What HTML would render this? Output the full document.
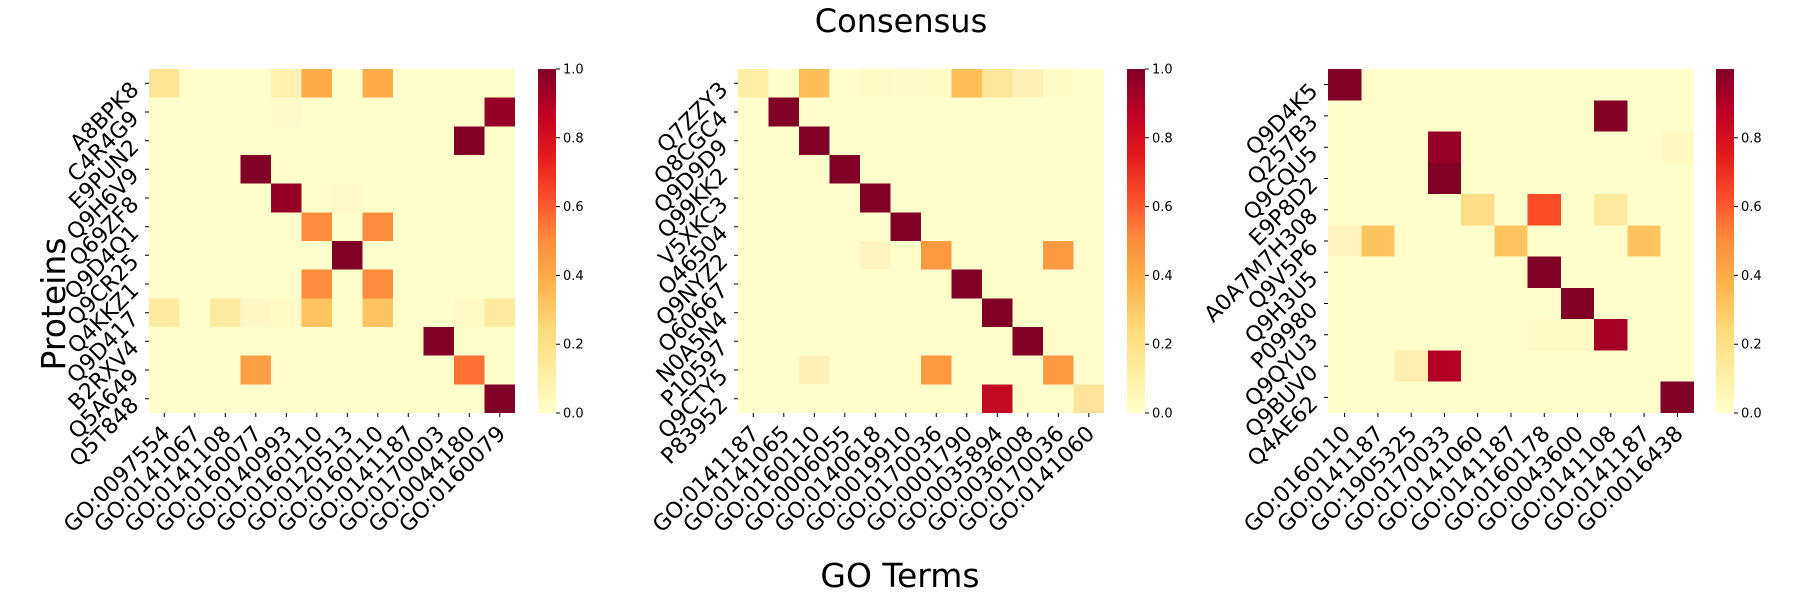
<!DOCTYPE html>
<html><head><meta charset="utf-8"><style>html,body{margin:0;padding:0;background:#fff}svg{display:block}text{font-family:"DejaVu Sans","Liberation Sans",sans-serif;fill:#000}</style></head>
<body>
<svg width="1800" height="600" viewBox="0 0 1800 600" xmlns="http://www.w3.org/2000/svg">
<defs>
<linearGradient id="yl" x1="0" y1="1" x2="0" y2="0">
<stop offset="0" stop-color="#ffffcc"/><stop offset="0.125" stop-color="#ffeda0"/><stop offset="0.25" stop-color="#fed976"/><stop offset="0.375" stop-color="#feb24c"/><stop offset="0.5" stop-color="#fd8d3c"/><stop offset="0.625" stop-color="#fc4e2a"/><stop offset="0.75" stop-color="#e31a1c"/><stop offset="0.875" stop-color="#bd0026"/><stop offset="1" stop-color="#800026"/>
</linearGradient>
</defs>
<text x="901" y="32" font-size="32" text-anchor="middle">Consensus</text>
<text x="900" y="587" font-size="33" text-anchor="middle">GO Terms</text>
<text transform="translate(65,304) rotate(-90)" font-size="33" text-anchor="middle">Proteins</text>

<!-- Panel 1 -->
<g>
<rect x="149" y="69" width="366" height="344" fill="#ffffcc"/>
<g shape-rendering="crispEdges">
<rect x="149" y="69" width="30.5" height="28.67" fill="#fee595"/>
<rect x="271" y="69" width="30.5" height="28.67" fill="#fff2b0"/>
<rect x="301.5" y="69" width="30.5" height="28.67" fill="#feab4a"/>
<rect x="362.5" y="69" width="30.5" height="28.67" fill="#feab4a"/>
<rect x="271" y="97.67" width="30.5" height="28.67" fill="#fffaca"/>
<rect x="484.5" y="97.67" width="30.5" height="28.67" fill="#970026"/>
<rect x="454" y="126.33" width="30.5" height="28.67" fill="#800026"/>
<rect x="240.5" y="155" width="30.5" height="28.67" fill="#800026"/>
<rect x="271" y="183.67" width="30.5" height="28.67" fill="#970026"/>
<rect x="332" y="183.67" width="30.5" height="28.67" fill="#fffac8"/>
<rect x="301.5" y="212.33" width="30.5" height="28.67" fill="#fd8c3c"/>
<rect x="362.5" y="212.33" width="30.5" height="28.67" fill="#fd8c3c"/>
<rect x="332" y="241" width="30.5" height="28.67" fill="#800026"/>
<rect x="301.5" y="269.67" width="30.5" height="28.67" fill="#fd8c3c"/>
<rect x="362.5" y="269.67" width="30.5" height="28.67" fill="#fd8c3c"/>
<rect x="149" y="298.33" width="30.5" height="28.67" fill="#feeba0"/>
<rect x="210" y="298.33" width="30.5" height="28.67" fill="#feeba0"/>
<rect x="240.5" y="298.33" width="30.5" height="28.67" fill="#fff8c4"/>
<rect x="271" y="298.33" width="30.5" height="28.67" fill="#fffac6"/>
<rect x="301.5" y="298.33" width="30.5" height="28.67" fill="#fec45f"/>
<rect x="362.5" y="298.33" width="30.5" height="28.67" fill="#fec45f"/>
<rect x="454" y="298.33" width="30.5" height="28.67" fill="#fffac6"/>
<rect x="484.5" y="298.33" width="30.5" height="28.67" fill="#feeba0"/>
<rect x="423.5" y="327" width="30.5" height="28.67" fill="#800026"/>
<rect x="240.5" y="355.67" width="30.5" height="28.67" fill="#fd9f44"/>
<rect x="454" y="355.67" width="30.5" height="28.67" fill="#fd7234"/>
<rect x="484.5" y="384.33" width="30.5" height="28.67" fill="#800026"/>
</g>
<g stroke="#000" stroke-width="1">
<path d="M145 83.3H149M145 112H149M145 140.7H149M145 169.3H149M145 198H149M145 226.7H149M145 255.3H149M145 284H149M145 312.7H149M145 341.3H149M145 370H149M145 398.7H149"/>
<path d="M164.3 413V417M194.8 413V417M225.3 413V417M255.8 413V417M286.3 413V417M316.8 413V417M347.3 413V417M377.8 413V417M408.3 413V417M438.8 413V417M469.3 413V417M499.8 413V417"/>
</g>
<g font-size="22" text-anchor="end">
<text transform="translate(140,91) rotate(-45)">A8BPK8</text>
<text transform="translate(140,119.7) rotate(-45)">C4R4G9</text>
<text transform="translate(140,148.4) rotate(-45)">E9PUN2</text>
<text transform="translate(140,177) rotate(-45)">Q9H6V9</text>
<text transform="translate(140,205.7) rotate(-45)">Q69ZF8</text>
<text transform="translate(140,234.4) rotate(-45)">Q9D4Q1</text>
<text transform="translate(140,263) rotate(-45)">Q9CR25</text>
<text transform="translate(140,291.7) rotate(-45)">Q4KKZ1</text>
<text transform="translate(140,320.4) rotate(-45)">Q9D417</text>
<text transform="translate(140,349) rotate(-45)">B2RXV4</text>
<text transform="translate(140,377.7) rotate(-45)">Q5A649</text>
<text transform="translate(140,406.4) rotate(-45)">Q5T848</text>
<text transform="translate(171.3,435) rotate(-45)">GO:0097554</text>
<text transform="translate(201.8,435) rotate(-45)">GO:0141067</text>
<text transform="translate(232.3,435) rotate(-45)">GO:0141108</text>
<text transform="translate(262.8,435) rotate(-45)">GO:0160077</text>
<text transform="translate(293.3,435) rotate(-45)">GO:0140993</text>
<text transform="translate(323.8,435) rotate(-45)">GO:0160110</text>
<text transform="translate(354.3,435) rotate(-45)">GO:0120513</text>
<text transform="translate(384.8,435) rotate(-45)">GO:0160110</text>
<text transform="translate(415.3,435) rotate(-45)">GO:0141187</text>
<text transform="translate(445.8,435) rotate(-45)">GO:0170003</text>
<text transform="translate(476.3,435) rotate(-45)">GO:0044180</text>
<text transform="translate(506.8,435) rotate(-45)">GO:0160079</text>
</g>
<rect x="538" y="69" width="18" height="344" fill="url(#yl)"/>
<path d="M556 413H560M556 344.2H560M556 275.4H560M556 206.6H560M556 137.8H560M556 69H560" stroke="#000"/>
<g font-size="13"><text x="563" y="417.5">0.0</text><text x="563" y="348.7">0.2</text><text x="563" y="279.9">0.4</text><text x="563" y="211.1">0.6</text><text x="563" y="142.3">0.8</text><text x="563" y="73.5">1.0</text></g>
</g>

<!-- Panel 2 -->
<g>
<rect x="738" y="69" width="366" height="344" fill="#ffffcc"/>
<g shape-rendering="crispEdges">
<rect x="738" y="69" width="30.5" height="28.67" fill="#ffefa5"/>
<rect x="799" y="69" width="30.5" height="28.67" fill="#febf5a"/>
<rect x="860" y="69" width="30.5" height="28.67" fill="#fffac6"/>
<rect x="890.5" y="69" width="30.5" height="28.67" fill="#fffcca"/>
<rect x="921" y="69" width="30.5" height="28.67" fill="#fffac6"/>
<rect x="951.5" y="69" width="30.5" height="28.67" fill="#febf5a"/>
<rect x="982" y="69" width="30.5" height="28.67" fill="#fee79b"/>
<rect x="1012.5" y="69" width="30.5" height="28.67" fill="#fff0b5"/>
<rect x="1043" y="69" width="30.5" height="28.67" fill="#fffac6"/>
<rect x="768.5" y="97.67" width="30.5" height="28.67" fill="#800026"/>
<rect x="799" y="126.33" width="30.5" height="28.67" fill="#800026"/>
<rect x="829.5" y="155" width="30.5" height="28.67" fill="#800026"/>
<rect x="860" y="183.67" width="30.5" height="28.67" fill="#800026"/>
<rect x="890.5" y="212.33" width="30.5" height="28.67" fill="#800026"/>
<rect x="860" y="241" width="30.5" height="28.67" fill="#fff5c0"/>
<rect x="921" y="241" width="30.5" height="28.67" fill="#fd9a41"/>
<rect x="1043" y="241" width="30.5" height="28.67" fill="#fd9a41"/>
<rect x="951.5" y="269.67" width="30.5" height="28.67" fill="#800026"/>
<rect x="982" y="298.33" width="30.5" height="28.67" fill="#800026"/>
<rect x="1012.5" y="327" width="30.5" height="28.67" fill="#800026"/>
<rect x="799" y="355.67" width="30.5" height="28.67" fill="#fff1b8"/>
<rect x="921" y="355.67" width="30.5" height="28.67" fill="#fd9a41"/>
<rect x="1043" y="355.67" width="30.5" height="28.67" fill="#fd9a41"/>
<rect x="982" y="384.33" width="30.5" height="28.67" fill="#c40a23"/>
<rect x="1073.5" y="384.33" width="30.5" height="28.67" fill="#fee39a"/>
</g>
<g stroke="#000" stroke-width="1">
<path d="M734 83.3H738M734 112H738M734 140.7H738M734 169.3H738M734 198H738M734 226.7H738M734 255.3H738M734 284H738M734 312.7H738M734 341.3H738M734 370H738M734 398.7H738"/>
<path d="M753.3 413V417M783.8 413V417M814.3 413V417M844.8 413V417M875.3 413V417M905.8 413V417M936.3 413V417M966.8 413V417M997.3 413V417M1027.8 413V417M1058.3 413V417M1088.8 413V417"/>
</g>
<g font-size="22" text-anchor="end">
<text transform="translate(729,91) rotate(-45)">Q7ZZY3</text>
<text transform="translate(729,119.7) rotate(-45)">Q8CGC4</text>
<text transform="translate(729,148.4) rotate(-45)">Q9D9D9</text>
<text transform="translate(729,177) rotate(-45)">Q99KK2</text>
<text transform="translate(729,205.7) rotate(-45)">V5XKC3</text>
<text transform="translate(729,234.4) rotate(-45)">O46504</text>
<text transform="translate(729,263) rotate(-45)">Q9NYZ2</text>
<text transform="translate(729,291.7) rotate(-45)">O60667</text>
<text transform="translate(729,320.4) rotate(-45)">N0A5N4</text>
<text transform="translate(729,349) rotate(-45)">P10597</text>
<text transform="translate(729,377.7) rotate(-45)">Q9CTY5</text>
<text transform="translate(729,406.4) rotate(-45)">P83952</text>
<text transform="translate(760.3,435) rotate(-45)">GO:0141187</text>
<text transform="translate(790.8,435) rotate(-45)">GO:0141065</text>
<text transform="translate(821.3,435) rotate(-45)">GO:0160110</text>
<text transform="translate(851.8,435) rotate(-45)">GO:0006055</text>
<text transform="translate(882.3,435) rotate(-45)">GO:0140618</text>
<text transform="translate(912.8,435) rotate(-45)">GO:0019910</text>
<text transform="translate(943.3,435) rotate(-45)">GO:0170036</text>
<text transform="translate(973.8,435) rotate(-45)">GO:0001790</text>
<text transform="translate(1004.3,435) rotate(-45)">GO:0035894</text>
<text transform="translate(1034.8,435) rotate(-45)">GO:0036008</text>
<text transform="translate(1065.3,435) rotate(-45)">GO:0170036</text>
<text transform="translate(1095.8,435) rotate(-45)">GO:0141060</text>
</g>
<rect x="1127" y="69" width="18" height="344" fill="url(#yl)"/>
<path d="M1145 413H1149M1145 344.2H1149M1145 275.4H1149M1145 206.6H1149M1145 137.8H1149M1145 69H1149" stroke="#000"/>
<g font-size="13"><text x="1152" y="417.5">0.0</text><text x="1152" y="348.7">0.2</text><text x="1152" y="279.9">0.4</text><text x="1152" y="211.1">0.6</text><text x="1152" y="142.3">0.8</text><text x="1152" y="73.5">1.0</text></g>
</g>

<!-- Panel 3 -->
<g>
<rect x="1328" y="69" width="366" height="344" fill="#ffffcc"/>
<g shape-rendering="crispEdges">
<rect x="1328" y="69" width="33.27" height="31.27" fill="#800026"/>
<rect x="1594.18" y="100.27" width="33.27" height="31.27" fill="#800026"/>
<rect x="1427.82" y="131.55" width="33.27" height="31.27" fill="#960026"/>
<rect x="1660.73" y="131.55" width="33.27" height="31.27" fill="#fffac4"/>
<rect x="1427.82" y="162.82" width="33.27" height="31.27" fill="#800026"/>
<rect x="1461.09" y="194.09" width="33.27" height="31.27" fill="#fedc88"/>
<rect x="1527.64" y="194.09" width="33.27" height="31.27" fill="#fb4b29"/>
<rect x="1594.18" y="194.09" width="33.27" height="31.27" fill="#feeba0"/>
<rect x="1328" y="225.36" width="33.27" height="31.27" fill="#fff3c0"/>
<rect x="1361.27" y="225.36" width="33.27" height="31.27" fill="#fec45f"/>
<rect x="1494.36" y="225.36" width="33.27" height="31.27" fill="#fec45f"/>
<rect x="1627.45" y="225.36" width="33.27" height="31.27" fill="#fec45f"/>
<rect x="1527.64" y="256.64" width="33.27" height="31.27" fill="#800026"/>
<rect x="1560.91" y="287.91" width="33.27" height="31.27" fill="#800026"/>
<rect x="1527.64" y="319.18" width="33.27" height="31.27" fill="#fffac6"/>
<rect x="1560.91" y="319.18" width="33.27" height="31.27" fill="#fffac6"/>
<rect x="1594.18" y="319.18" width="33.27" height="31.27" fill="#a50026"/>
<rect x="1394.55" y="350.45" width="33.27" height="31.27" fill="#ffeeb0"/>
<rect x="1427.82" y="350.45" width="33.27" height="31.27" fill="#b50026"/>
<rect x="1660.73" y="381.73" width="33.27" height="31.27" fill="#800026"/>
</g>
<g stroke="#000" stroke-width="1">
<path d="M1324 84.6H1328M1324 115.9H1328M1324 147.2H1328M1324 178.5H1328M1324 209.7H1328M1324 241H1328M1324 272.3H1328M1324 303.5H1328M1324 334.8H1328M1324 366.1H1328M1324 397.4H1328"/>
<path d="M1344.6 413V417M1377.9 413V417M1411.2 413V417M1444.5 413V417M1477.7 413V417M1511 413V417M1544.3 413V417M1577.5 413V417M1610.8 413V417M1644.1 413V417M1677.4 413V417"/>
</g>
<g font-size="22" text-anchor="end">
<text transform="translate(1319,92.3) rotate(-45)">Q9D4K5</text>
<text transform="translate(1319,123.6) rotate(-45)">Q257B3</text>
<text transform="translate(1319,154.9) rotate(-45)">Q9CQU5</text>
<text transform="translate(1319,186.2) rotate(-45)">E9P8D2</text>
<text transform="translate(1319,217.4) rotate(-45)">A0A7M7H308</text>
<text transform="translate(1319,248.7) rotate(-45)">Q9V5P6</text>
<text transform="translate(1319,280) rotate(-45)">Q9H3U5</text>
<text transform="translate(1319,311.2) rotate(-45)">P09980</text>
<text transform="translate(1319,342.5) rotate(-45)">Q9QYU3</text>
<text transform="translate(1319,373.8) rotate(-45)">Q9BUV0</text>
<text transform="translate(1319,405.1) rotate(-45)">Q4AE62</text>
<text transform="translate(1351.6,435) rotate(-45)">GO:0160110</text>
<text transform="translate(1384.9,435) rotate(-45)">GO:0141187</text>
<text transform="translate(1418.2,435) rotate(-45)">GO:1905325</text>
<text transform="translate(1451.5,435) rotate(-45)">GO:0170033</text>
<text transform="translate(1484.7,435) rotate(-45)">GO:0141060</text>
<text transform="translate(1518,435) rotate(-45)">GO:0141187</text>
<text transform="translate(1551.3,435) rotate(-45)">GO:0160178</text>
<text transform="translate(1584.5,435) rotate(-45)">GO:0043600</text>
<text transform="translate(1617.8,435) rotate(-45)">GO:0141108</text>
<text transform="translate(1651.1,435) rotate(-45)">GO:0141187</text>
<text transform="translate(1684.4,435) rotate(-45)">GO:0016438</text>
</g>
<rect x="1716" y="69" width="18" height="344" fill="url(#yl)"/>
<path d="M1734 413H1738M1734 344.2H1738M1734 275.4H1738M1734 206.6H1738M1734 137.8H1738" stroke="#000"/>
<g font-size="13"><text x="1741" y="417.5">0.0</text><text x="1741" y="348.7">0.2</text><text x="1741" y="279.9">0.4</text><text x="1741" y="211.1">0.6</text><text x="1741" y="142.3">0.8</text></g>
</g>
</svg>
</body></html>
